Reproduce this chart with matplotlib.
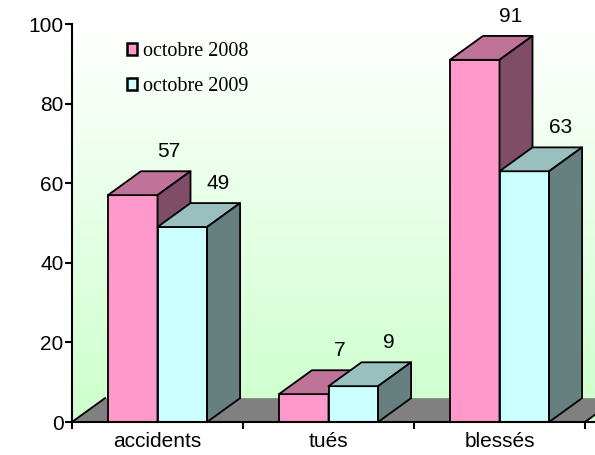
import matplotlib
matplotlib.use("Agg")
import matplotlib.pyplot as plt
import numpy as np
from matplotlib.patches import Polygon, Patch
from matplotlib.colors import LinearSegmentedColormap

categories = ["accidents", "tués", "blessés"]
series = ["octobre 2008", "octobre 2009"]
v2008 = [57, 7, 91]
v2009 = [49, 9, 63]
yticks = [0, 20, 40, 60, 80, 100]

fronts = ["#FF99CC", "#CCFFFF"]
tops = ["#BF7399", "#99BFBF"]
sides = ["#804D66", "#668080"]

W, H = 595, 455
fig = plt.figure(figsize=(W / 100, H / 100), dpi=100)
ax = fig.add_axes([72 / W, 33 / H, (W - 72) / W, (422 - 24) / H])

xmax = (W - 72) / 171.0
ax.set_xlim(0, xmax)
ax.set_ylim(0, 100)

# background gradient: white at top, light green at bottom
cmap = LinearSegmentedColormap.from_list("bg", ["#CCFFCC", "#FFFFFF"])
grad = np.linspace(0, 1, 256).reshape(-1, 1)
ax.imshow(grad, extent=[0, xmax, 0, 100], origin="lower", aspect="auto",
          cmap=cmap, zorder=0)

ddx, ddy = 0.193, 6.0  # 3d depth
bw = 0.29

# floor
ax.add_patch(Polygon([(0, 0), (3, 0), (3 + ddx, ddy), (ddx, ddy)], closed=True,
                     facecolor="#808080", edgecolor="none", zorder=1))
ax.plot([0, ddx], [0, ddy], color="black", lw=1.3, zorder=1.5)
ax.plot([3, 3 + ddx], [0, ddy], color="black", lw=1.3, zorder=1.5, clip_on=False)

z = 2
for i, cat in enumerate(categories):
    c = i + 0.5
    for k, vals in enumerate([v2008, v2009]):
        v = vals[i]
        x0 = c - bw + k * bw
        x1 = x0 + bw
        ax.bar(x0, v, width=bw, align="edge", color=fronts[k], edgecolor="black",
               linewidth=1.3, zorder=z)
        ax.add_patch(Polygon([(x0, v), (x1, v), (x1 + ddx, v + ddy), (x0 + ddx, v + ddy)],
                             closed=True, facecolor=tops[k], edgecolor="black",
                             linewidth=1.3, zorder=z, joinstyle="round"))
        ax.add_patch(Polygon([(x1, 0), (x1 + ddx, ddy), (x1 + ddx, v + ddy), (x1, v)],
                             closed=True, facecolor=sides[k], edgecolor="black",
                             linewidth=1.3, zorder=z, joinstyle="round"))
        ax.text(x0 + bw / 2 + 0.21, v + ddy + 5.0, str(v), ha="center", va="center",
                fontsize=15, family="Liberation Sans", zorder=20, clip_on=False)
        z += 1

for s in ["top", "right"]:
    ax.spines[s].set_visible(False)
ax.spines["left"].set_linewidth(1.5)
ax.spines["bottom"].set_linewidth(1.5)
ax.spines["left"].set_zorder(30)
ax.spines["bottom"].set_zorder(30)

ax.set_yticks(yticks)
ax.set_yticklabels([str(t) for t in yticks], fontsize=15, family="Liberation Sans")
ax.tick_params(axis="y", direction="out", length=5, width=1.5, pad=1)
ax.set_xticks([0, 1, 2, 3])
ax.set_xticklabels([])
ax.tick_params(axis="x", which="major", direction="out", length=5, width=1.5)
ax.set_xticks([0.5, 1.5, 2.5], minor=True)
ax.set_xticklabels(categories, minor=True, fontsize=15, family="Liberation Sans")
ax.tick_params(axis="x", which="minor", length=0, pad=7)

handles = [Patch(facecolor=fronts[k], edgecolor="black", linewidth=1.8) for k in range(2)]
ax.legend(handles, series, loc="upper left", bbox_to_anchor=(127 / W, 1 - 42 / H),
          bbox_transform=fig.transFigure, frameon=False,
          prop={"family": "Liberation Serif", "size": 14.5},
          handlelength=0.5, handleheight=0.5, handletextpad=0.3,
          labelspacing=0.8, borderpad=0, borderaxespad=0)

fig.savefig("out.png", dpi=100)
